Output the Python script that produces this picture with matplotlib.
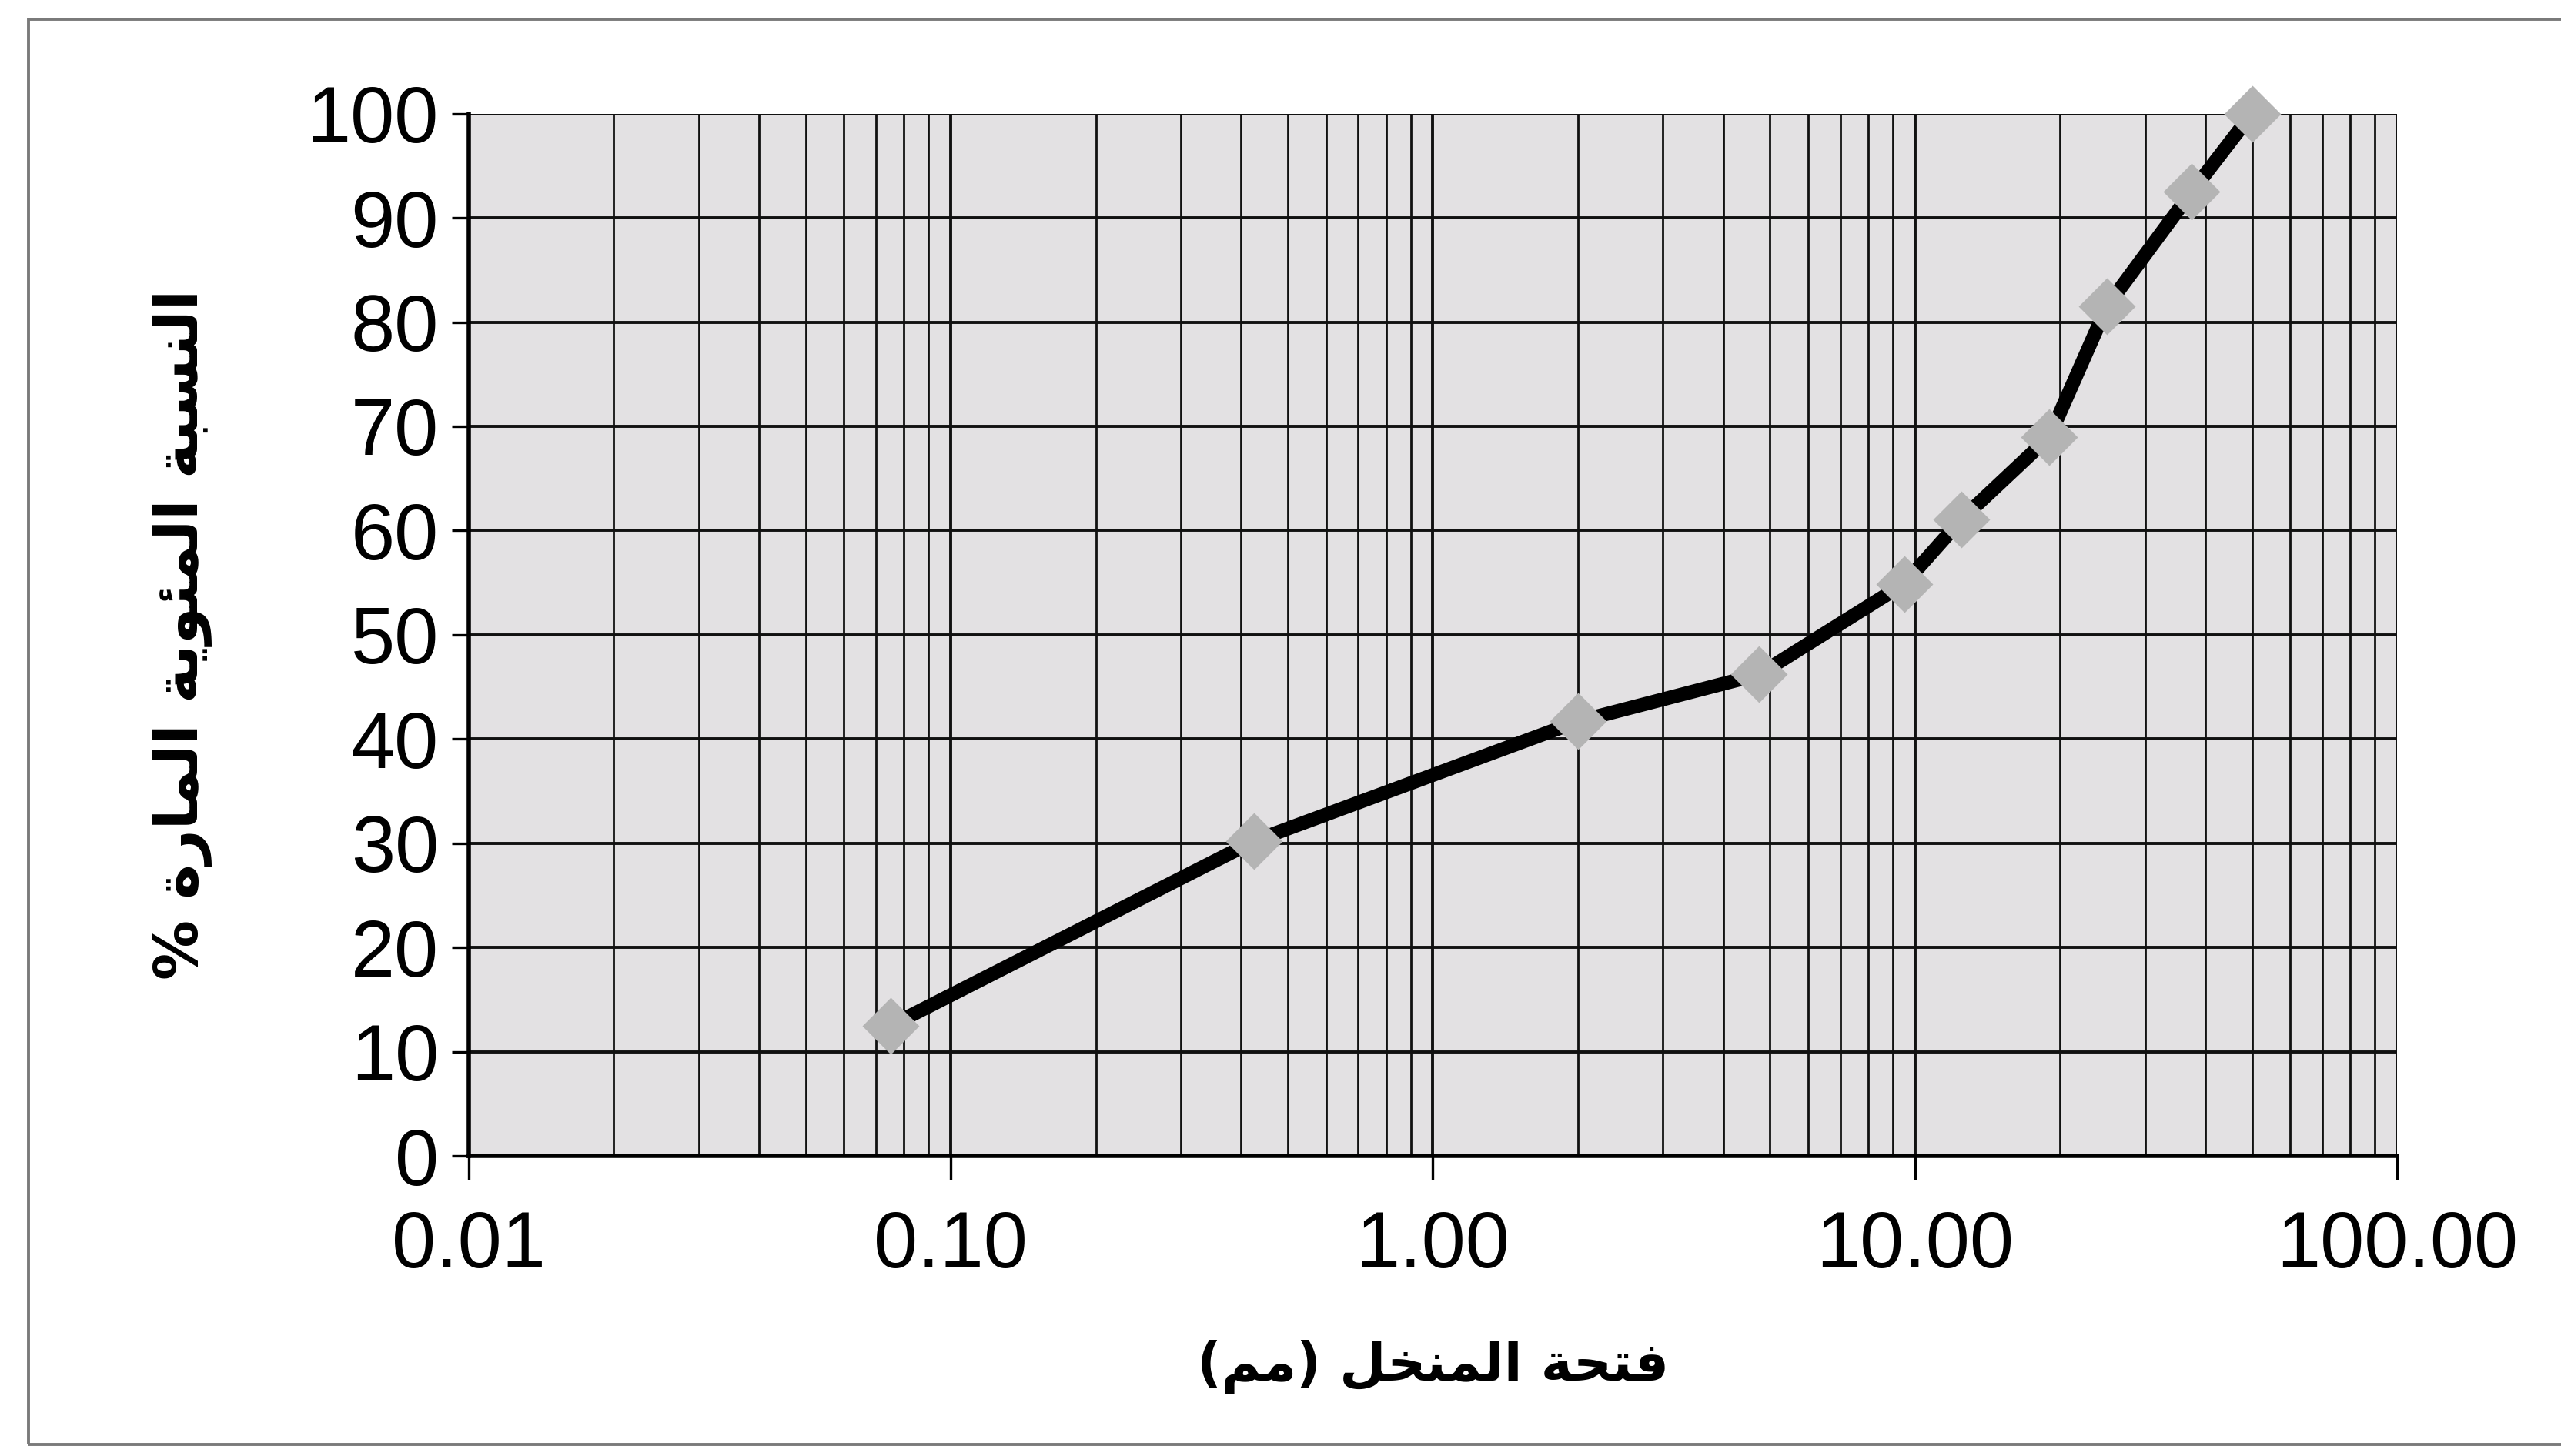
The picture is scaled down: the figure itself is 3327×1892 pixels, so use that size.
import matplotlib
matplotlib.use('Agg')
import matplotlib.pyplot as plt
from matplotlib.ticker import LogLocator, FixedLocator, NullFormatter
from matplotlib.patches import Rectangle

# بيانات التدرج الحبيبي
sieve_mm = [0.075, 0.425, 2.0, 4.75, 9.5, 12.5, 19.0, 25.0, 37.5, 50.0]
passing_pct = [12.5, 30.2, 41.7, 46.2, 54.9, 61.1, 69.0, 81.5, 92.5, 100.0]

x_ticks = [0.01, 0.1, 1.0, 10.0, 100.0]
x_tick_labels = ['0.01', '0.10', '1.00', '10.00', '100.00']
y_ticks = list(range(0, 101, 10))

x_label = 'فتحة المنخل (مم)'
y_label = 'النسبة المئوية المارة %'

# أشكال الحروف (منفرد، نهائي، ابتدائي، وسطي)
FORMS = {
    'ا': ('\uFE8D', '\uFE8E', None, None),
    'ب': ('\uFE8F', '\uFE90', '\uFE91', '\uFE92'),
    'ة': ('\uFE93', '\uFE94', None, None),
    'ت': ('\uFE95', '\uFE96', '\uFE97', '\uFE98'),
    'ح': ('\uFEA1', '\uFEA2', '\uFEA3', '\uFEA4'),
    'خ': ('\uFEA5', '\uFEA6', '\uFEA7', '\uFEA8'),
    'ر': ('\uFEAD', '\uFEAE', None, None),
    'س': ('\uFEB1', '\uFEB2', '\uFEB3', '\uFEB4'),
    'ف': ('\uFED1', '\uFED2', '\uFED3', '\uFED4'),
    'ل': ('\uFEDD', '\uFEDE', '\uFEDF', '\uFEE0'),
    'م': ('\uFEE1', '\uFEE2', '\uFEE3', '\uFEE4'),
    'ن': ('\uFEE5', '\uFEE6', '\uFEE7', '\uFEE8'),
    'و': ('\uFEED', '\uFEEE', None, None),
    'ي': ('\uFEF1', '\uFEF2', '\uFEF3', '\uFEF4'),
    'ئ': ('\uFE89', '\uFE8A', '\uFE8B', '\uFE8C'),
}
MIRROR = {'(': ')', ')': '('}


def shape_arabic(text):
    """تشكيل الحروف وعكس الترتيب للعرض من اليسار لليمين"""
    out = []
    n = len(text)
    for i, ch in enumerate(text):
        if ch not in FORMS:
            out.append(MIRROR.get(ch, ch))
            continue
        prev = text[i - 1] if i > 0 else ''
        nxt = text[i + 1] if i < n - 1 else ''
        joins_prev = prev in FORMS and FORMS[prev][2] is not None
        joins_next = FORMS[ch][2] is not None and nxt in FORMS
        iso, fin, ini, med = FORMS[ch]
        if joins_prev and joins_next:
            out.append(med)
        elif joins_prev:
            out.append(fin)
        elif joins_next:
            out.append(ini)
        else:
            out.append(iso)
    return ''.join(reversed(out))


fig = plt.figure(figsize=(16.635, 9.46), dpi=200)
fig.patch.set_facecolor('white')
ax = fig.add_axes([0.183, 0.206, 0.753, 0.716])
ax.set_facecolor('#e3e1e3')

ax.plot(sieve_mm, passing_pct, color='black', linewidth=6.5,
        marker='D', markersize=18, markerfacecolor='#b4b4b4',
        markeredgecolor='#b4b4b4', zorder=5, clip_on=False)

ax.set_xscale('log')
ax.set_xlim(0.01, 100)
ax.set_ylim(0, 100)

ax.xaxis.set_major_locator(FixedLocator(x_ticks))
ax.set_xticklabels(x_tick_labels)
ax.xaxis.set_minor_locator(LogLocator(base=10, subs=range(2, 10), numticks=20))
ax.xaxis.set_minor_formatter(NullFormatter())
ax.set_yticks(y_ticks)

ax.grid(True, which='major', color='#111111', linewidth=1.4)
ax.grid(True, which='minor', axis='x', color='#111111', linewidth=1.0)
ax.set_axisbelow(True)

for s in ['top', 'right']:
    ax.spines[s].set_visible(False)
for s in ['left', 'bottom']:
    ax.spines[s].set_color('black')
    ax.spines[s].set_linewidth(2.0)

ax.tick_params(axis='x', which='major', length=11, width=1.2, pad=14,
               labelsize=37, direction='out')
ax.tick_params(axis='x', which='minor', length=0)
ax.tick_params(axis='y', which='major', length=8, width=1.2, pad=6,
               labelsize=37, direction='out')
for lab in ax.get_xticklabels() + ax.get_yticklabels():
    lab.set_fontfamily('Liberation Sans')

ax.set_xlabel(shape_arabic(x_label), fontsize=25, fontweight='bold',
              family='DejaVu Sans', labelpad=26)
ax.set_ylabel(shape_arabic(y_label), fontsize=28, fontweight='bold',
              family='DejaVu Sans', labelpad=44)

# إطار المخطط
fig.add_artist(Rectangle((0.011, 0.008), 1.2, 0.979, transform=fig.transFigure,
                         fill=False, edgecolor='#7a7a7a', linewidth=1.4))

fig.savefig('out.png', dpi=200, facecolor='white')
